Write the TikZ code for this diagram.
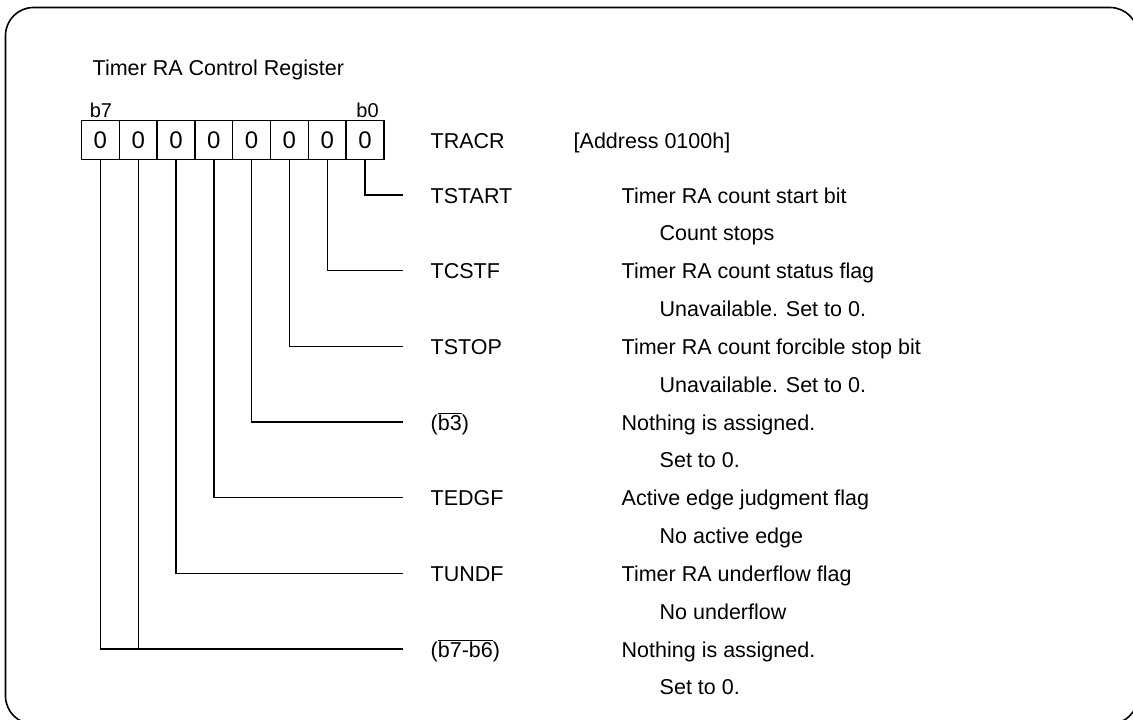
\documentclass[tikz,border=0pt]{standalone}
\usepackage{fontspec}
\setmainfont{Liberation Sans}
\begin{document}
\begin{tikzpicture}[x=1pt, y=-1pt, line width=1.4pt, line join=miter,
  txt/.style={anchor=base west, inner sep=0pt, font=\fontsize{21.5}{26}\selectfont},
  cell/.style={draw, minimum width=37.8pt, minimum height=39pt, inner sep=0pt, font=\fontsize{24}{28}\selectfont},
  bitno/.style={anchor=base, inner sep=0pt, font=\fontsize{20}{24}\selectfont}]

  %% ════ 外框 ════
  \draw[line width=1.6pt, rounded corners=28pt] (5.5,7.5) rectangle (1138,724);

  %% ════ 标题与位号 ════
  \node[txt] (title) at (92,75) {Timer RA Control Register};
  \node[bitno] (b7) at (101,117) {b7};
  \node[bitno] (b0) at (367.5,117) {b0};

  %% ════ 寄存器格子（b7 在左）════
  \foreach \i in {0,...,7}
    \node[cell] (c\i) at ({100.4+37.8*(7-\i)},140) {0};
  \node[txt] (reg) at (430,148) {TRACR};
  \node[txt] (addr) at (573,148) {[Address 0100h]};

  %% ════ 连线终点 ════
  \foreach \r in {0,...,6}
    \coordinate (e\r) at (403,{195+75.67*\r});

  %% ════ 位名称 ════
  \node[txt] (tstart) at (430,203) {TSTART};
  \node[txt] (tcstf) at (430,278.7) {TCSTF};
  \node[txt] (tstop) at (430,354.3) {TSTOP};
  \node[txt] (rsv3) at (430,430) {($\overline{\mbox{b3}}$)};
  \node[txt] (tedgf) at (430,505.7) {TEDGF};
  \node[txt] (tundf) at (430,581.3) {TUNDF};
  \node[txt] (rsv76) at (430,657) {($\overline{\mbox{b7-b6}}$)};

  %% ════ 说明 ════
  \node[txt] (d0) at (621,203) {Timer RA count start bit};
  \node[txt] (s0) at (659,240.8) {Count stops};
  \node[txt] (d1) at (621,278.7) {Timer RA count status flag};
  \node[txt] (s1) at (659,316.5) {Unavailable. Set to 0.};
  \node[txt] (d2) at (621,354.3) {Timer RA count forcible stop bit};
  \node[txt] (s2) at (659,392.1) {Unavailable. Set to 0.};
  \node[txt] (d3) at (621,430) {Nothing is assigned.};
  \node[txt] (s3) at (659,467.8) {Set to 0.};
  \node[txt] (d4) at (621,505.7) {Active edge judgment flag};
  \node[txt] (s4) at (659,543.5) {No active edge};
  \node[txt] (d5) at (621,581.3) {Timer RA underflow flag};
  \node[txt] (s5) at (659,619.1) {No underflow};
  \node[txt] (d6) at (621,657) {Nothing is assigned.};
  \node[txt] (s6) at (659,694.8) {Set to 0.};

  %% ════ 引出线 ════
  \foreach \i/\r in {0/0,1/1,2/2,3/3,4/4,5/5,7/6}
    \draw (c\i.south) |- (e\r);
  \draw (c6.south) -- (c6.south |- e6);

  % 钉死画布
  \pgfresetboundingbox
  \path[use as bounding box] (0,0) rectangle (1133,720);
\end{tikzpicture}
\end{document}
